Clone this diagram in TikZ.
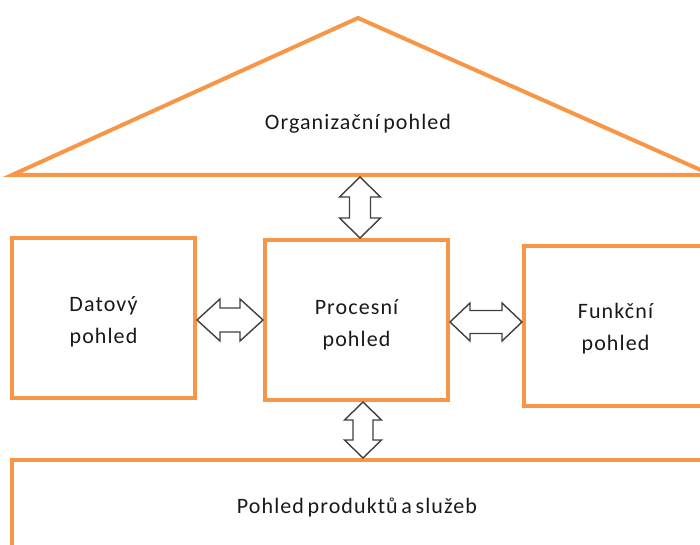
\documentclass[tikz,border=0pt]{standalone}
\usepackage{fontspec}
\setmainfont{Carlito}[LetterSpace=5, WordSpace=0.6]
\usetikzlibrary{calc}
\definecolor{viewline}{HTML}{F79646}
\definecolor{arrowline}{HTML}{404040}
\tikzset{
  view/.style={draw=viewline, line width=4pt, fill=white,
    minimum width=183pt, minimum height=160pt},
  label/.style={align=center, font=\fontsize{22}{32}\selectfont, text=black!90},
  twoarrow/.style={draw=arrowline, line width=1.4pt, fill=white, line join=miter},
}
% hollow double-headed arrow between two points:
% #1 start, #2 end, #3 half head width, #4 half shaft width, #5 head length
\newcommand\twoway[5]{%
  \coordinate (tw-a) at (#1);
  \coordinate (tw-b) at (#2);
  \coordinate (tw-ha) at ($(tw-a)!#5!(tw-b)$);
  \coordinate (tw-hb) at ($(tw-b)!#5!(tw-a)$);
  \draw[twoarrow] (tw-a)
    -- ($(tw-ha)!#3!90:(tw-b)$) -- ($(tw-ha)!#4!90:(tw-b)$)
    -- ($(tw-hb)!#4!-90:(tw-a)$) -- ($(tw-hb)!#3!-90:(tw-a)$)
    -- (tw-b)
    -- ($(tw-hb)!#3!90:(tw-a)$) -- ($(tw-hb)!#4!90:(tw-a)$)
    -- ($(tw-ha)!#4!-90:(tw-b)$) -- ($(tw-ha)!#3!-90:(tw-b)$)
    -- cycle;}
\begin{document}
\begin{tikzpicture}[x=1pt, y=-1pt]
  \useasboundingbox (0,0) rectangle (700,545);

  % organisational roof
  \draw[draw=viewline, line width=4pt, line join=miter] (12,175) -- (358,18) -- (712,175) -- cycle;
  \node[label] (org) at (358,124) {Organizační pohled};
  \coordinate (orgbase) at (360,177);

  % the three middle views
  \node[view] (data) at (103.5,318) {};
  \node[view] (proc) at (356.5,320) {};
  \node[view] (func) at (615.5,325.5) {};
  \node[label] (data-text) at ([yshift=-4pt]data.center) {Datový\\pohled};
  \node[label] (proc-text) at ([yshift=-5pt]proc.center) {Procesní\\pohled};
  \node[label] (func-text) at ([yshift=-3pt]func.center) {Funkční\\pohled};

  % products and services base
  \draw[draw=viewline, line width=4pt] (12,600) |- (740,460);
  \node[label] (prod) at (357,507) {Pohled produktů a služeb};
  \coordinate (prodtop) at (363,458);

  % links between the views
  \twoway{orgbase}{orgbase |- proc.north}{20.5pt}{10.5pt}{20pt}
  \twoway{data.east |- 0,320}{proc.west |- 0,320}{21pt}{12pt}{23pt}
  \twoway{proc.east |- 0,322}{func.west |- 0,322}{19pt}{11.5pt}{20pt}
  \twoway{prodtop |- proc.south}{prodtop}{18.5pt}{10pt}{18pt}
\end{tikzpicture}
\end{document}
